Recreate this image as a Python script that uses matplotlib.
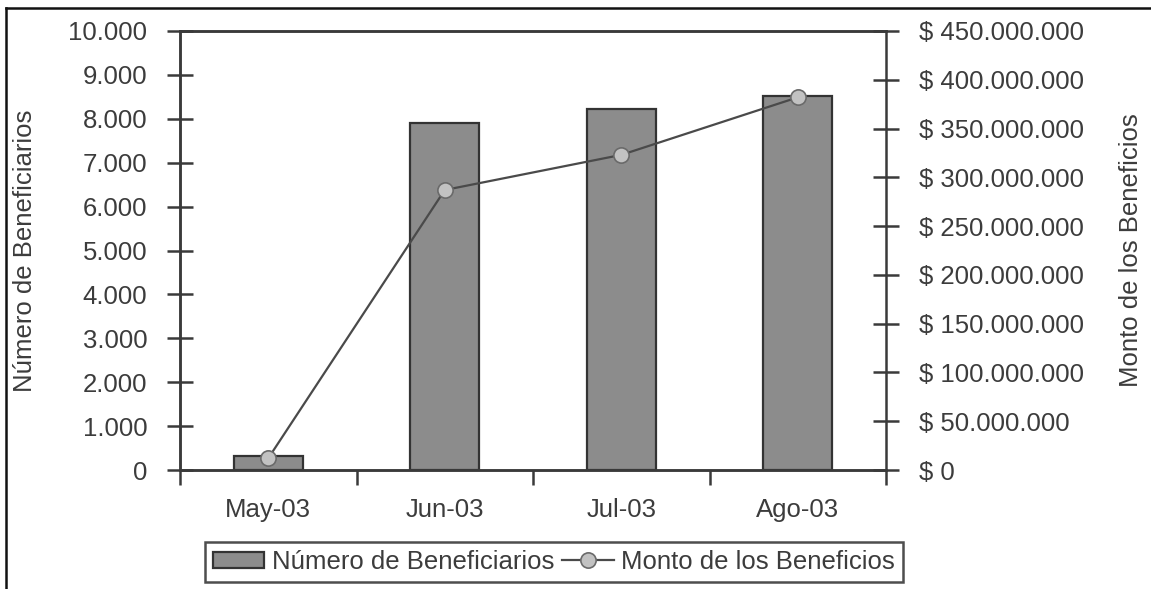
import numpy as np
import matplotlib
matplotlib.use('Agg')
from matplotlib import pyplot as plt
from matplotlib.lines import Line2D
from matplotlib.ticker import FuncFormatter, FixedLocator

plt.rcParams['font.family'] = ['Liberation Sans', 'DejaVu Sans']

meses = ['May-03', 'Jun-03', 'Jul-03', 'Ago-03']
beneficiarios = [310, 7900, 8220, 8520]
monto = [12_000_000, 287_000_000, 323_000_000, 382_000_000]

txt = '#3c3c3c'
eje = '#3a3a3a'
fs = 18.5

def miles(v, pos=None):
    return f'{int(round(v)):,}'.replace(',', '.')

def pesos(v, pos=None):
    return '$ ' + miles(v)

fig = plt.figure(figsize=(11.51, 5.89), dpi=100)
ax1 = fig.add_axes([180 / 1151, 1 - 470 / 589, 706 / 1151, 439 / 589])
ax2 = ax1.twinx()

x = np.arange(len(meses))
ax1.bar(x, beneficiarios, width=0.39, color='#8c8c8c', edgecolor='#333333',
        linewidth=1.6, label='Número de Beneficiarios', zorder=2)
ax2.plot(x, monto, color='#4a4a4a', linewidth=1.6, marker='o', markersize=11,
         markerfacecolor='#c2c2c2', markeredgecolor='#6a6a6a',
         markeredgewidth=1.2, label='Monto de los Beneficios', zorder=3)

ax1.set_xlim(-0.5, len(meses) - 0.5)
ax1.set_ylim(0, 10000)
ax2.set_ylim(0, 450_000_000)

ax1.set_yticks(np.arange(0, 10001, 1000))
ax1.yaxis.set_major_formatter(FuncFormatter(miles))
ax2.set_yticks(np.arange(0, 450_000_001, 50_000_000))
ax2.yaxis.set_major_formatter(FuncFormatter(pesos))

# marcas entre meses, etiquetas centradas en cada barra
ax1.xaxis.set_major_locator(FixedLocator(np.arange(-0.5, len(meses), 1.0)))
ax1.xaxis.set_major_formatter(FuncFormatter(lambda v, p: ''))
ax1.xaxis.set_minor_locator(FixedLocator(x))
ax1.set_xticklabels(meses, minor=True)
ax1.tick_params(axis='x', which='major', direction='out', length=11,
                width=1.8, color=eje)
ax1.tick_params(axis='x', which='minor', length=0, pad=20,
                labelsize=fs, labelcolor=txt)

ax1.tick_params(axis='y', direction='inout', length=19, width=1.8, color=eje,
                pad=14, labelsize=fs, labelcolor=txt)
ax2.tick_params(axis='y', direction='inout', length=19, width=1.8, color=eje,
                pad=14, labelsize=fs, labelcolor=txt)

for ax in (ax1, ax2):
    for s in ax.spines.values():
        s.set_color(eje)
        s.set_linewidth(1.8)
ax1.spines['right'].set_visible(False)

ax1.set_ylabel('Número de Beneficiarios', fontsize=fs, color=txt)
ax1.yaxis.label.set_va('center')
ax1.yaxis.set_label_coords((25 - 180) / 706, 0.5)
ax2.set_ylabel('Monto de los Beneficios', fontsize=fs, color=txt)
ax2.yaxis.label.set_va('center')
ax2.yaxis.set_label_coords((1131 - 180) / 706, 0.5)

h1, l1 = ax1.get_legend_handles_labels()
h2, l2 = ax2.get_legend_handles_labels()
leg = fig.legend(h1 + h2, l1 + l2, ncol=2, loc='center',
                 bbox_to_anchor=(554 / 1151, 1 - 562 / 589),
                 fontsize=fs, frameon=True, fancybox=False,
                 edgecolor='#222222', handlelength=2.0, handleheight=0.6,
                 columnspacing=0.3, handletextpad=0.3, borderpad=0.3,
                 borderaxespad=0)
leg.get_frame().set_linewidth(1.8)
for t in leg.get_texts():
    t.set_color(txt)

# borde superior e izquierdo de la figura
fig.add_artist(Line2D([6 / 1151, 1], [1 - 8 / 589, 1 - 8 / 589],
                      transform=fig.transFigure, color='#111111', linewidth=1.8))
fig.add_artist(Line2D([6 / 1151, 6 / 1151], [0, 1 - 8 / 589],
                      transform=fig.transFigure, color='#111111', linewidth=1.8))

fig.savefig('out.png', dpi=100)
